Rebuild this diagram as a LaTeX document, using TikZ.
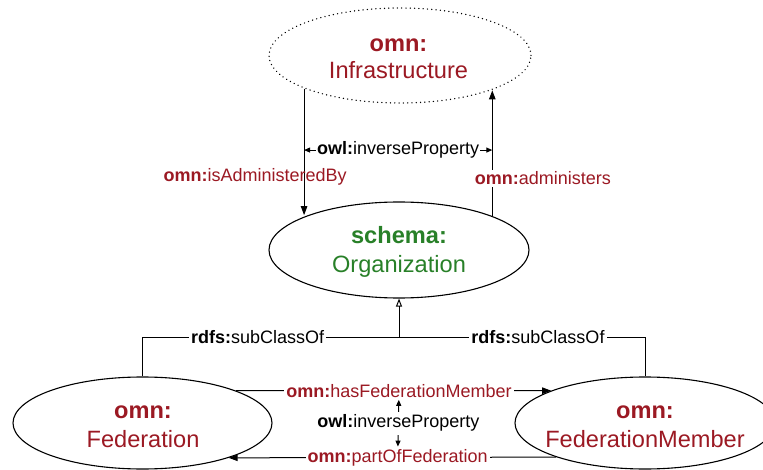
\documentclass[tikz,border=0pt]{standalone}
\usepackage{fontspec}
\setmainfont{Liberation Sans}
\usetikzlibrary{arrows.meta,calc,shapes.geometric}
\definecolor{omnred}{RGB}{155,25,35}
\definecolor{schemagreen}{RGB}{40,128,40}
\begin{document}
\begin{tikzpicture}[x=1pt,y=-1pt,
  cls/.style={ellipse,draw,line width=1.1pt,inner sep=0pt},
  dotcls/.style={cls,line cap=round,dash pattern=on 0.1pt off 4.2pt,line width=1.4pt},
  big/.style={font=\fontsize{23.6}{27}\selectfont,inner sep=0pt,anchor=base},
  elab/.style={font=\fontsize{18}{21}\selectfont,inner sep=2pt,text=omnred},
  blab/.style={elab,text=black,fill=white,inner sep=1pt},
  conn/.style={line width=1pt,-{Triangle[length=9pt,width=6.5pt]}},
  inv/.style={line width=1pt,{Triangle[length=6pt,width=5pt]}-{Triangle[length=6pt,width=5pt]}},
  sub/.style={line width=1pt},
  subarr/.style={line width=1pt,-{Triangle[open,length=8pt,width=6pt]}}
]
\useasboundingbox (0,0) rectangle (763,470);
\clip (0,0) rectangle (763,470);

% classes
\node[dotcls,minimum width=262pt,minimum height=95pt] (infra) at (400,55.5) {};
\node[cls,minimum width=260pt,minimum height=96pt] (org) at (399,250) {};
\node[cls,minimum width=259pt,minimum height=92pt] (fed) at (142.5,423) {};
\node[cls,minimum width=260pt,minimum height=92pt] (fm) at (645,423) {};

\node[big,text=omnred] (infraA) at (398.5,52) {\bfseries omn:};
\node[big,text=omnred] (infraB) at (398.5,79) {Infrastructure};
\node[big,text=schemagreen] (orgA) at (399,244) {\bfseries schema:};
\node[big,text=schemagreen] (orgB) at (399,273) {Organization};
\node[big,text=omnred] (fedA) at (143,418) {\bfseries omn:};
\node[big,text=omnred] (fedB) at (143,447) {Federation};
\node[big,text=omnred] (fmA) at (645,418) {\bfseries omn:};
\node[big,text=omnred] (fmB) at (645,447) {FederationMember};

% infrastructure <-> organization
\draw[conn] (infra.199.78) -- coordinate[pos=0.486] (invL)
  node[pos=0.70,elab,xshift=-49pt] (isadm) {{\bfseries omn:}isAdministeredBy}
  (infra.199.78 |- org.159.77);
\draw[conn] (org.20.65) -- coordinate[pos=0.514] (invR)
  node[pos=0.30,elab,fill=white,xshift=50.5pt] (adm) {{\bfseries omn:}administers}
  (org.20.65 |- infra.339.03);
\draw[inv] (invL) -- node[blab] (inv1) {{\bfseries owl:}inverseProperty} (invL -| invR);

% subclass
\coordinate (j) at ($(org.south)+(0,39)$);
\draw[sub] (fed.north) |- (j) node[pos=0.7246,blab,inner sep=2pt] (sc1) {{\bfseries rdfs:}subClassOf}
  -| (fm.north) node[pos=0.2825,blab,inner sep=2pt] (sc2) {{\bfseries rdfs:}subClassOf};
\draw[subarr] (j) -- (org.south);

% federation <-> member
\draw[conn] (fed.19) -- node[pos=0.517,elab,fill=white] (hasfm) {{\bfseries omn:}hasFederationMember} (fm.161);
\draw[conn] (fm.201.3) -- node[pos=0.484,elab,fill=white] (partof) {{\bfseries omn:}partOfFederation} (fed.338.7);
\draw[inv] (hasfm) -- node[blab,inner sep=3pt] (inv2) {{\bfseries owl:}inverseProperty} (partof);
\end{tikzpicture}
\end{document}
